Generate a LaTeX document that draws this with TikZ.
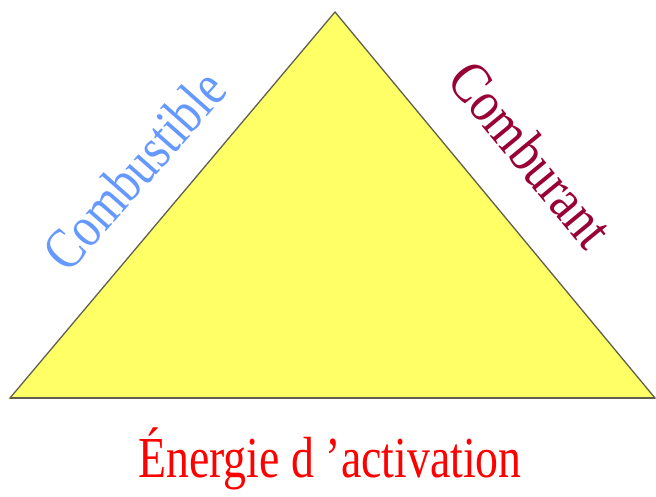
\documentclass[tikz,border=0pt]{standalone}
\usepackage{fontspec}
\setmainfont{Liberation Serif}
\definecolor{triyellow}{RGB}{255,255,102}
\definecolor{triedge}{RGB}{96,96,80}
\definecolor{combblue}{RGB}{102,153,255}
\definecolor{combred}{RGB}{153,0,51}
\definecolor{actred}{RGB}{255,0,0}
\tikzset{
  tri/.style={fill=triyellow, draw=triedge, line width=1.3pt, line join=miter},
  label/.style={inner sep=0pt, font=\fontsize{58}{60}\selectfont},
}
\begin{document}
\begin{tikzpicture}[x=1pt,y=-1pt]
\useasboundingbox (0,0) rectangle (656,497);
\coordinate (apex) at (335,12);
\coordinate (bl) at (10,398);
\coordinate (br) at (655,398);
\draw[tri] (bl) -- (apex) -- (br) -- cycle;
\draw[triedge, line width=2pt] (bl) -- (br);
\node[label, text=combblue, rotate=48.5] (comb) at (134,170) {\scalebox{0.82}[1]{Combustible}};
\node[label, text=combred, rotate=-50.5] (comt) at (531,154) {\scalebox{0.85}[1]{Comburant}};
\node[label, text=actred, anchor=base] (act) at (330,477) {\scalebox{0.79}[1]{Énergie d 'activation}};
\end{tikzpicture}
\end{document}
